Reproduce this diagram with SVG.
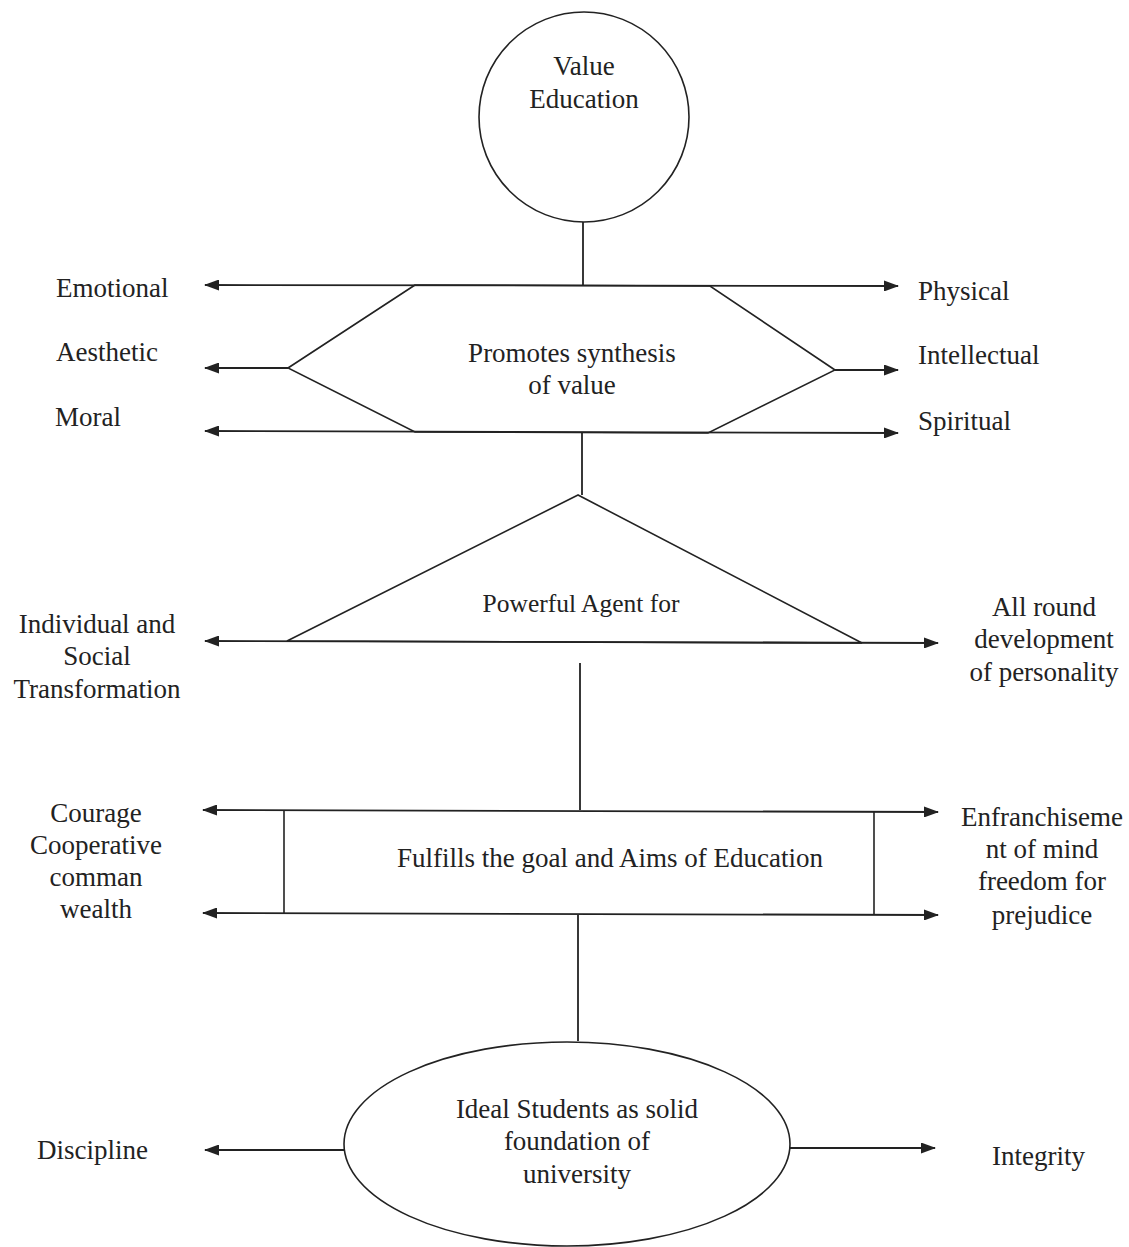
<svg xmlns="http://www.w3.org/2000/svg" width="1129" height="1247" viewBox="0 0 1129 1247">
<style>
.s{fill:none;stroke:#222;stroke-width:1.8}
.n{fill:none;stroke:#222;stroke-width:1.6}
text{font-family:"Liberation Serif","Times New Roman",serif;font-size:27px;fill:#222}
.c{text-anchor:middle}
</style>
<defs>
<marker id="ah" viewBox="0 0 15 11" refX="14" refY="5.5" markerWidth="15" markerHeight="11" markerUnits="userSpaceOnUse" orient="auto-start-reverse">
<path d="M0,0 L15,5.5 L0,11 Z" fill="#222"/>
</marker>
</defs>
<rect width="1129" height="1247" fill="#fff"/>
<g id="connectors">
<line class="s" x1="583" y1="222" x2="583" y2="285"/>
<line class="s" x1="205" y1="285" x2="898" y2="286" marker-start="url(#ah)" marker-end="url(#ah)"/>
<line class="s" x1="205" y1="368" x2="288" y2="368" marker-start="url(#ah)"/>
<line class="s" x1="835" y1="370" x2="898" y2="370" marker-end="url(#ah)"/>
<line class="s" x1="205" y1="431" x2="898" y2="433" marker-start="url(#ah)" marker-end="url(#ah)"/>
<line class="s" x1="582" y1="433" x2="582" y2="495"/>
<line class="s" x1="205" y1="641" x2="938" y2="643" marker-start="url(#ah)" marker-end="url(#ah)"/>
<line class="s" x1="580" y1="663" x2="580" y2="810"/>
<line class="s" x1="203" y1="810" x2="938" y2="812" marker-start="url(#ah)" marker-end="url(#ah)"/>
<line class="s" x1="203" y1="913" x2="938" y2="915" marker-start="url(#ah)" marker-end="url(#ah)"/>
<line class="s" x1="578" y1="915" x2="578" y2="1041"/>
<line class="s" x1="205" y1="1150" x2="345" y2="1150" marker-start="url(#ah)"/>
<line class="s" x1="790" y1="1148" x2="935" y2="1148" marker-end="url(#ah)"/>
</g>
<g id="value-education">
<circle class="n" cx="584" cy="117" r="105"/>
<text class="c" x="584" y="75">Value</text>
<text class="c" x="584" y="108">Education</text>
</g>
<g id="promotes">
<polygon class="n" points="415,285 288,368 415,432 708,433 835,370 710,286"/>
<text class="c" x="572" y="362">Promotes synthesis</text>
<text class="c" x="572" y="394">of value</text>
</g>
<g id="powerful">
<polygon class="n" points="578,495 287,641 862,643"/>
<text class="c" x="581" y="612" style="font-size:25.5px">Powerful Agent for</text>
</g>
<g id="fulfills">
<line class="n" x1="284" y1="810" x2="284" y2="913"/>
<line class="n" x1="874" y1="812" x2="874" y2="915"/>
<text class="c" x="610" y="867">Fulfills the goal and Aims of Education</text>
</g>
<g id="ideal">
<ellipse class="n" cx="567" cy="1144" rx="223" ry="102"/>
<text class="c" x="577" y="1118">Ideal Students as solid</text>
<text class="c" x="577" y="1150">foundation of</text>
<text class="c" x="577" y="1183">university</text>
</g>
<g id="labels">
<text x="56" y="297">Emotional</text>
<text x="56" y="361">Aesthetic</text>
<text x="55" y="426">Moral</text>
<text x="918" y="300">Physical</text>
<text x="918" y="364">Intellectual</text>
<text x="918" y="430">Spiritual</text>
<text class="c" x="97" y="633">Individual and</text>
<text class="c" x="97" y="665">Social</text>
<text class="c" x="97" y="698">Transformation</text>
<text class="c" x="1044" y="616">All round</text>
<text class="c" x="1044" y="648">development</text>
<text class="c" x="1044" y="681">of personality</text>
<text class="c" x="96" y="822">Courage</text>
<text class="c" x="96" y="854">Cooperative</text>
<text class="c" x="96" y="886">comman</text>
<text class="c" x="96" y="918">wealth</text>
<text class="c" x="1042" y="826">Enfranchiseme</text>
<text class="c" x="1042" y="858">nt of mind</text>
<text class="c" x="1042" y="890">freedom for</text>
<text class="c" x="1042" y="924">prejudice</text>
<text x="37" y="1159">Discipline</text>
<text x="992" y="1165">Integrity</text>
</g>
</svg>
